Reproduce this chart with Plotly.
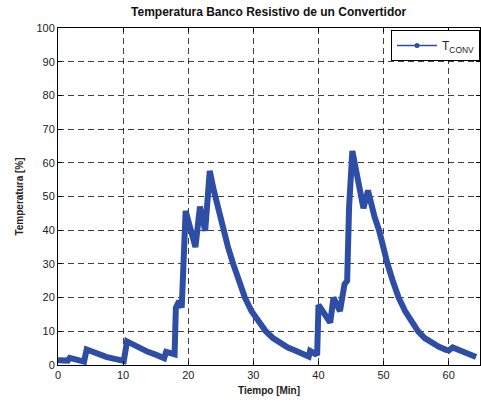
import plotly.graph_objects as go

# Temperature of the converter's resistive bank over time
tiempo_min = [
    0.0, 1.5, 1.8, 3.4, 4.0, 4.4,
    5.2, 6.2, 7.4, 8.7, 10.1, 10.6,
    11.5, 12.6, 13.8, 15.1, 16.3, 16.6, 17.9,
    18.1, 18.6, 19.0, 19.3, 19.6, 21.1, 21.8, 22.6, 23.3,
    23.9, 24.6, 25.4, 26.1, 26.9, 27.7, 28.7, 29.7, 30.7, 31.9,
    33.0, 34.2, 35.3, 36.5, 37.6, 38.5,
    38.7, 39.5, 39.8, 40.0, 41.8, 42.3, 43.3, 44.0, 44.4, 44.7, 45.2,
    46.9, 47.6, 48.0, 48.6, 49.3, 49.9, 50.6, 51.4, 52.3, 53.3, 54.2,
    55.3, 56.3, 57.4, 58.5, 59.6, 60.0, 60.6, 61.5, 62.6, 63.6, 64.2,
]
temperatura_pct = [
    1.4, 1.3, 2.1, 1.6, 1.0, 4.6,
    3.9, 3.1, 2.4, 1.8, 1.2, 7.0,
    6.0, 4.9, 3.9, 3.0, 2.0, 3.9, 3.2,
    17.0, 19.0, 17.0, 32.0, 45.7, 35.0, 47.0, 39.8, 57.6,
    52.0, 46.0, 40.0, 35.0, 30.0, 25.0, 20.0, 16.0, 13.0, 10.0,
    8.0, 6.5, 5.2, 4.2, 3.3, 2.5,
    4.2, 3.3, 3.5, 17.8, 12.6, 20.0, 16.0, 24.0, 25.0, 47.0, 63.5,
    46.5, 51.8, 48.0, 44.0, 40.0, 35.0, 30.0, 25.0, 20.0, 16.0, 13.0,
    10.0, 8.0, 6.5, 5.4, 4.5, 4.3, 5.2, 4.5, 3.6, 2.8, 2.4,
]

x_ticks = [0, 10, 20, 30, 40, 50, 60]
y_ticks = [0, 10, 20, 30, 40, 50, 60, 70, 80, 90, 100]

azul = "#2E4EA6"
fuente = "Liberation Sans, Arial, sans-serif"

fig = go.Figure()

# Densely sampled series, drawn as a heavy line
fig.add_trace(go.Scatter(
    x=tiempo_min, y=temperatura_pct, mode="lines",
    line=dict(color=azul, width=6), showlegend=False,
    hoverinfo="x+y",
))

# Legend entry with line-and-dot style
fig.add_trace(go.Scatter(
    x=[None], y=[None], mode="lines+markers",
    line=dict(color=azul, width=1.5), marker=dict(color=azul, size=5),
    name="T<sub>CONV</sub>",
))

eje = dict(
    showline=True, linecolor="black", linewidth=1, mirror="ticks",
    ticks="inside", ticklen=4, tickcolor="black",
    showgrid=True, gridcolor="rgba(0,0,0,0.75)", griddash="6px,4px", gridwidth=1,
    zeroline=False,
    tickfont=dict(family=fuente, size=11, color="#222"),
)

fig.update_xaxes(
    **eje, range=[0, 64.8], tickvals=x_ticks,
    title=dict(text="<b>Tiempo [Min]</b>", font=dict(family=fuente, size=10, color="#222"), standoff=6),
)
fig.update_yaxes(
    **eje, range=[0, 100], tickvals=y_ticks,
    title=dict(text="<b>Temperatura [%]</b>", font=dict(family=fuente, size=10, color="#222"), standoff=10),
)

fig.update_layout(
    width=481, height=402,
    margin=dict(l=58, r=1, t=28, b=37),
    paper_bgcolor="white", plot_bgcolor="white",
    title=dict(
        text="<b>Temperatura Banco Resistivo de un Convertidor</b>",
        font=dict(family=fuente, size=12, color="#111"),
        x=0.5585, xanchor="center", y=1 - 12 / 402, yanchor="middle", yref="container",
    ),
    legend=dict(
        x=1.0, xanchor="right", y=0.994, yanchor="top",
        bgcolor="white", bordercolor="black", borderwidth=1,
        font=dict(family=fuente, size=12, color="#222"),
        itemwidth=40,
    ),
    showlegend=True,
)

fig.write_html("out.html")
